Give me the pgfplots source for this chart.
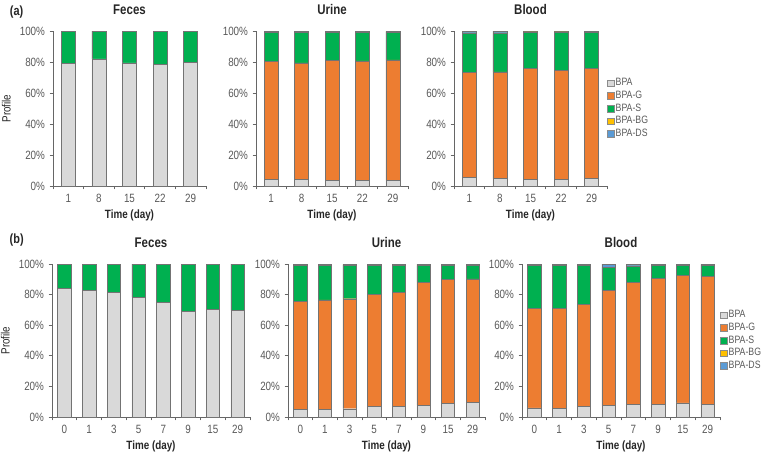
\documentclass[border=0pt]{standalone}
\usepackage{pgfplots}
\pgfplotsset{compat=1.18}
\usepackage{fontspec}
\setmainfont{Liberation Sans}[FakeStretch=0.82]
\definecolor{cBPA}{HTML}{D9D9D9}
\definecolor{cG}{HTML}{ED7D31}
\definecolor{cS}{HTML}{00B050}
\definecolor{cBG}{HTML}{FFC000}
\definecolor{cDS}{HTML}{5B9BD5}
\definecolor{txt}{HTML}{595959}
\definecolor{ttl}{HTML}{262626}
\pgfplotsset{
  panel/.style={
    scale only axis, ybar stacked, clip=false,
    ymin=0, ymax=100, ytick={0,20,...,100},
    enlargelimits=false,
    /pgf/number format/assume math mode=true,
    yticklabel={\pgfmathprintnumber{\tick}\%},
    axis lines=left, axis line style={-, draw=black!60, line width=0.5pt},
    tick align=outside, tick style={draw=black!60, line width=0.5pt},
    major tick length=2.5pt, minor tick length=2.5pt,
    major x tick style={draw=none},
    ticklabel style={font=\fontsize{9}{10}\selectfont, text=txt},
    xlabel={\textbf{Time (day)}},
    xlabel style={font=\fontsize{9}{10}\selectfont, text=ttl, at={(0.5,0)}, anchor=north, yshift=-14pt},
    title style={font=\fontsize{10.5}{12}\selectfont\bfseries, text=ttl, at={(0.5,1)}, anchor=south, yshift=3pt},
    ylabel style={font=\fontsize{9}{10}\selectfont, text=ttl},
    every axis plot/.append style={draw=black!55, line width=0.35pt},
  },
  five/.style={xmin=-0.5, xmax=4.5, xtick={0,...,4}, xticklabels={1,8,15,22,29},
    minor xtick={-0.5,0.5,...,4.5}, bar width=10.5pt},
  eight/.style={xmin=-0.5, xmax=7.5, xtick={0,...,7}, xticklabels={0,1,3,5,7,9,15,29},
    minor xtick={-0.5,0.5,...,7.5}, bar width=10pt},
  leg/.style={
    legend style={at={(1,0.5)}, anchor=west, xshift=0pt, draw=none, fill=none,
      font=\fontsize{8}{9}\selectfont, text=txt, row sep=0.4pt, inner sep=0pt,
      nodes={inner sep=1pt}},
    legend cell align=left,
    legend image code/.code={\draw[##1,draw=black!45,line width=0.3pt] (0pt,-2.5pt) rectangle (5pt,2.5pt);},
  },
  sBPA/.style={fill=cBPA}, sG/.style={fill=cG}, sS/.style={fill=cS},
  sBG/.style={fill=cBG}, sDS/.style={fill=cDS},
}
\begin{document}
\begin{tikzpicture}
\path[use as bounding box] (0,0) rectangle (577.5pt,343.5pt);
\node[font=\fontsize{10}{12}\selectfont\bfseries, text=ttl] at (12.5pt,334.5pt) {(a)};
\node[font=\fontsize{10}{12}\selectfont\bfseries, text=ttl] at (12.5pt,163.5pt) {(b)};
% ---------- (a) Feces
\begin{axis}[panel, five, at={(39.75pt,204pt)}, width=114.75pt, height=116.25pt,
  title={Feces}, ylabel={Profile}]
\addplot[sBPA] coordinates {(0,79)(1,82)(2,79.5)(3,78.5)(4,80)};
\addplot[sS] coordinates {(0,21)(1,18)(2,20.5)(3,21.5)(4,20)};
\end{axis}
% ---------- (a) Urine
\begin{axis}[panel, five, at={(192pt,204pt)}, width=114pt, height=116.25pt,
  title={Urine}]
\addplot[sBPA] coordinates {(0,4.3)(1,4.3)(2,3.7)(3,3.7)(4,3.7)};
\addplot[sG] coordinates {(0,76.2)(1,75.1)(2,77.3)(3,77.0)(4,77.7)};
\addplot[sS] coordinates {(0,18.7)(1,19.8)(2,18.2)(3,18.5)(4,17.8)};
\addplot[sBG] coordinates {(0,0.6)(1,0.6)(2,0.6)(3,0.6)(4,0.6)};
\addplot[sDS] coordinates {(0,0.2)(1,0.2)(2,0.2)(3,0.2)(4,0.2)};
\end{axis}
% ---------- (a) Blood
\begin{axis}[panel, five, leg, at={(340.5pt,204pt)}, width=114.75pt, height=116.25pt,
  title={Blood}]
\addplot[sBPA] coordinates {(0,5.8)(1,4.7)(2,4.3)(3,4.1)(4,4.7)};
\addplot[sG] coordinates {(0,67.5)(1,69.0)(2,71.6)(3,70.7)(4,71.2)};
\addplot[sS] coordinates {(0,25.2)(1,24.8)(2,23.2)(3,24.3)(4,23.1)};
\addplot[sBG] coordinates {(0,0.3)(1,0.3)(2,0.3)(3,0.3)(4,0.3)};
\addplot[sDS] coordinates {(0,1.2)(1,1.2)(2,0.6)(3,0.6)(4,0.7)};
\legend{BPA,BPA-G,BPA-S,BPA-BG,BPA-DS}
\end{axis}
% ---------- (b) Feces
\begin{axis}[panel, eight, at={(39pt,30.75pt)}, width=148.5pt, height=114.75pt,
  title={Feces}, ylabel={Profile}]
\addplot[sBPA] coordinates {(0,84.3)(1,82.6)(2,81.5)(3,78.4)(4,74.9)(5,69.1)(6,70.2)(7,69.7)};
\addplot[sS] coordinates {(0,15.7)(1,17.4)(2,18.5)(3,21.6)(4,25.1)(5,30.9)(6,29.8)(7,30.3)};
\end{axis}
% ---------- (b) Urine
\begin{axis}[panel, eight, at={(216pt,30.75pt)}, width=147.75pt, height=114.75pt,
  title={Urine}]
\addplot[sBPA] coordinates {(0,4.8)(1,4.8)(2,5.4)(3,6.8)(4,7.0)(5,7.8)(6,8.7)(7,9.6)};
\addplot[sG] coordinates {(0,70.8)(1,71.7)(2,71.9)(3,73.2)(4,74.5)(5,80.4)(6,81.1)(7,80.6)};
\addplot[sS] coordinates {(0,23.6)(1,22.7)(2,21.9)(3,19.2)(4,17.7)(5,10.8)(6,9.2)(7,8.8)};
\addplot[sBG] coordinates {(0,0.4)(1,0.4)(2,0.6)(3,0.6)(4,0.6)(5,0.6)(6,0.9)(7,0.9)};
\addplot[sDS] coordinates {(0,0.4)(1,0.4)(2,0.2)(3,0.2)(4,0.2)(5,0.4)(6,0.1)(7,0.1)};
\end{axis}
% ---------- (b) Blood
\begin{axis}[panel, eight, leg, at={(391.5pt,30.75pt)}, width=148.5pt, height=114.75pt,
  title={Blood}]
\addplot[sBPA] coordinates {(0,5.9)(1,5.7)(2,7.0)(3,7.4)(4,8.1)(5,8.1)(6,9.2)(7,8.1)};
\addplot[sG] coordinates {(0,65.3)(1,65.5)(2,66.4)(3,75.4)(4,80.1)(5,82.7)(6,83.4)(7,83.8)};
\addplot[sS] coordinates {(0,27.7)(1,27.9)(2,25.7)(3,15.0)(4,10.3)(5,8.3)(6,6.5)(7,7.2)};
\addplot[sBG] coordinates {(0,0.2)(1,0.2)(2,0.2)(3,0.2)(4,0.2)(5,0.2)(6,0.2)(7,0.2)};
\addplot[sDS] coordinates {(0,0.9)(1,0.7)(2,0.7)(3,2.0)(4,1.3)(5,0.7)(6,0.7)(7,0.7)};
\legend{BPA,BPA-G,BPA-S,BPA-BG,BPA-DS}
\end{axis}
\end{tikzpicture}
\end{document}
